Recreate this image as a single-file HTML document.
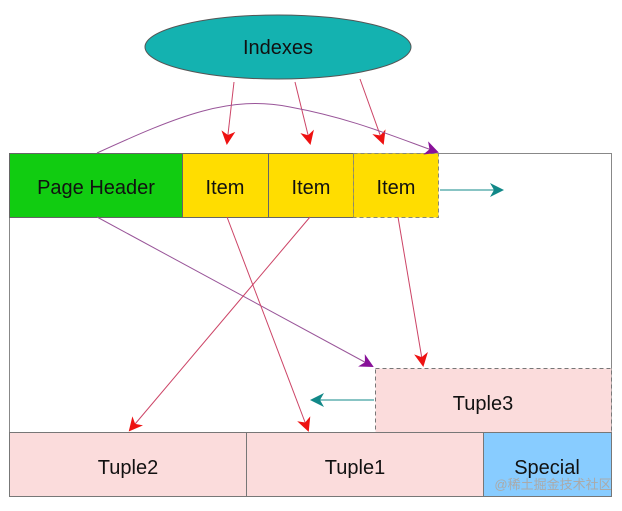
<!DOCTYPE html>
<html><head><style>body{margin:0;background:#fff}text{font-family:"Liberation Sans",sans-serif;font-size:20px;text-anchor:middle;fill:#111}</style></head>
<body>
<svg width="622" height="506" viewBox="0 0 622 506" xmlns="http://www.w3.org/2000/svg">
<defs>
<marker id="r" markerWidth="14" markerHeight="14" refX="12" refY="7" orient="auto" markerUnits="userSpaceOnUse"><path d="M0,0 L14,7 L0,14 L4,7 Z" fill="#ee1111"/></marker>
<marker id="p" markerWidth="14" markerHeight="14" refX="12" refY="7" orient="auto" markerUnits="userSpaceOnUse"><path d="M0,0 L14,7 L0,14 L4,7 Z" fill="#881199"/></marker>
<marker id="t" markerWidth="14" markerHeight="14" refX="12" refY="7" orient="auto" markerUnits="userSpaceOnUse"><path d="M0,0 L14,7 L0,14 L4,7 Z" fill="#118888"/></marker>
</defs>
<rect x="9.5" y="153.5" width="602" height="343" fill="#fff" stroke="#888"/>
<rect x="9.5" y="153.5" width="173" height="64" fill="#11cc11" stroke="#666"/>
<rect x="182.5" y="153.5" width="86" height="64" fill="#ffdd00" stroke="#666"/>
<rect x="268.5" y="153.5" width="85" height="64" fill="#ffdd00" stroke="#666"/>
<rect x="353.5" y="153.5" width="85" height="64" fill="#ffdd00" stroke="#887" stroke-dasharray="4,3"/>
<rect x="375.5" y="368.5" width="236" height="64" fill="#fbdcdc" stroke="#777" stroke-dasharray="4,3"/>
<rect x="9.5" y="432.5" width="237" height="64" fill="#fbdcdc" stroke="#777"/>
<rect x="246.5" y="432.5" width="237" height="64" fill="#fbdcdc" stroke="#777"/>
<rect x="483.5" y="432.5" width="128" height="64" fill="#88ccff" stroke="#777"/>
<ellipse cx="278" cy="47" rx="133" ry="32" fill="#14b2b0" stroke="#555"/>
<text x="278" y="54">Indexes</text>
<text x="96" y="194">Page Header</text>
<text x="225" y="194">Item</text>
<text x="311" y="194">Item</text>
<text x="396" y="194">Item</text>
<text x="483" y="410">Tuple3</text>
<text x="128" y="474">Tuple2</text>
<text x="355" y="474">Tuple1</text>
<text x="547" y="474">Special</text>
<text x="553" y="489" style="font-size:13px;fill:#aaa;font-family:'Liberation Sans','Noto Sans CJK SC',sans-serif">@稀土掘金技术社区</text>
<g fill="none" stroke-width="1">
<line x1="234" y1="82" x2="227" y2="143" stroke="#cc4466" marker-end="url(#r)"/>
<line x1="295" y1="82" x2="310" y2="143" stroke="#cc4466" marker-end="url(#r)"/>
<line x1="360" y1="79" x2="383" y2="143" stroke="#cc4466" marker-end="url(#r)"/>
<path d="M97,153 C180,115 230,95 290,107 C350,118 390,135 437,152" stroke="#995599" marker-end="url(#p)"/>
<line x1="440" y1="190" x2="502" y2="190" stroke="#118888" marker-end="url(#t)"/>
<line x1="97" y1="217" x2="372" y2="366" stroke="#995599" marker-end="url(#p)"/>
<line x1="227" y1="217" x2="308" y2="430" stroke="#cc4466" marker-end="url(#r)"/>
<line x1="310" y1="217" x2="130" y2="430" stroke="#cc4466" marker-end="url(#r)"/>
<line x1="398" y1="217" x2="423" y2="365" stroke="#cc4466" marker-end="url(#r)"/>
<line x1="374" y1="400" x2="312" y2="400" stroke="#118888" marker-end="url(#t)"/>
</g>
</svg>
</body></html>
